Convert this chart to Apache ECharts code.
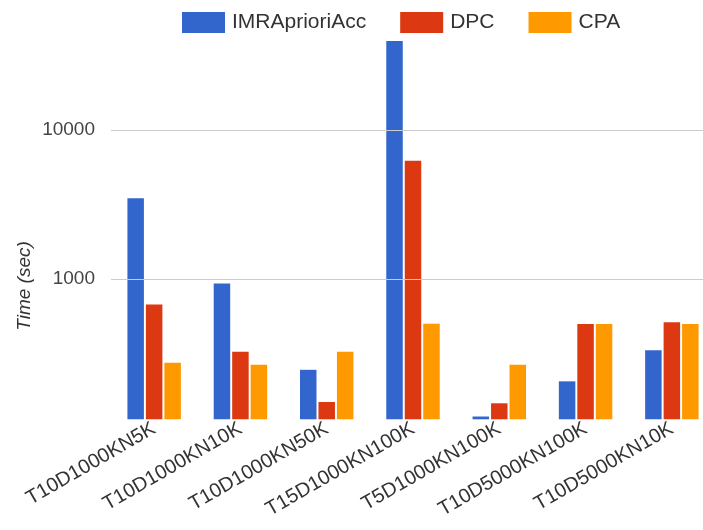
<!DOCTYPE html>
<html>
<head>
<meta charset="utf-8">
<script src="https://cdn.jsdelivr.net/npm/echarts@6/dist/echarts.min.js"></script>
<style>html,body{margin:0;padding:0;background:#fff;overflow:hidden;width:703px;height:530px}#c{width:715px;height:530px}</style>
</head>
<body>
<div id="c"></div>
<script>
var categories = ['T10D1000KN5K','T10D1000KN10K','T10D1000KN50K','T15D1000KN100K','T5D1000KN100K','T10D5000KN100K','T10D5000KN10K'];
var seriesNames = ['IMRAprioriAcc','DPC','CPA'];
var imrAprioriAcc = [3480, 930, 245, 39500, 119, 205, 332];
var dpc = [672, 324, 149, 6200, 146, 497, 512];
var cpa = [273, 265, 324, 499, 265, 497, 497];
var yTicks = [1000, 10000];
var yMin = 114, yMax = 39500;
var colors = ['#3366cc', '#dc3912', '#ff9900'];
var FONT = 'Liberation Sans, Arial, sans-serif';

var chart = echarts.init(document.getElementById('c'), null, {renderer: 'canvas'});
var dataSets = [imrAprioriAcc, dpc, cpa];
var series = seriesNames.map(function (n, i) {
  return {
    name: n, type: 'bar', data: dataSets[i],
    barWidth: 16.5, barGap: '12%',
    itemStyle: {color: colors[i]},
    clip: true
  };
});
series[0].markLine = {
  silent: true, symbol: 'none', label: {show: false},
  lineStyle: {color: '#cccccc', width: 1, type: 'solid'},
  data: yTicks.map(function (v) { return {yAxis: v}; })
};
chart.setOption({
  animation: false,
  color: colors,
  legend: {
    left: 182, top: 12, padding: 0, itemWidth: 43, itemHeight: 21, itemGap: 34,
    icon: 'rect',
    textStyle: {fontSize: 21, fontFamily: FONT, color: '#333', padding: [0, 0, 0, 2]},
    data: seriesNames
  },
  grid: {left: 111, top: 41, right: 0, bottom: 110.7, containLabel: false},
  xAxis: {
    type: 'category', data: categories,
    axisLine: {show: false}, axisTick: {show: false},
    axisLabel: {rotate: 30, fontSize: 20, fontFamily: FONT, color: '#333', margin: 8, interval: 0}
  },
  yAxis: {
    type: 'log', logBase: 10, min: yMin, max: yMax,
    axisLine: {show: false}, axisTick: {show: false},
    axisLabel: {
      fontSize: 19, fontFamily: FONT, color: '#444', margin: 16,
      showMinLabel: false, showMaxLabel: false,
      formatter: function (v) { return yTicks.indexOf(Math.round(v)) >= 0 ? String(Math.round(v)) : ''; }
    },
    splitLine: {show: false}
  },
  graphic: [{
    type: 'text', x: 25, y: 286, rotation: Math.PI / 2,
    style: {text: 'Time (sec)', font: 'italic 19px Liberation Sans, Arial, sans-serif', fill: '#333', align: 'center', verticalAlign: 'middle'}
  }],
  series: series
});
</script>
</body>
</html>
